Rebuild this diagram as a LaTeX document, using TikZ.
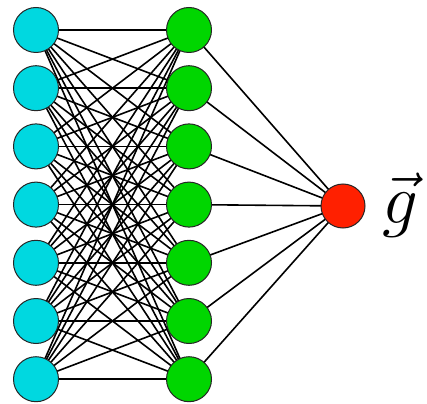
\documentclass[tikz,border=0pt]{standalone}
\usetikzlibrary{backgrounds}
\definecolor{inputcol}{RGB}{0,216,224}
\definecolor{hiddencol}{RGB}{0,214,0}
\definecolor{outputcol}{RGB}{255,32,0}
\tikzset{
  neuron/.style={circle, draw=black!85, line width=1pt, minimum size=45pt, inner sep=0pt},
  inneuron/.style={neuron, fill=inputcol},
  hidneuron/.style={neuron, fill=hiddencol},
  outneuron/.style={neuron, fill=outputcol, minimum size=44pt},
  link/.style={line width=1.6pt, black}
}
\begin{document}
\begin{tikzpicture}[x=1pt,y=1pt]
  \useasboundingbox (0,0) rectangle (427,-403);
  % input and hidden layers
  \foreach \i in {1,...,7} {
    \node[inneuron]  (in\i)  at (36, {-30-58.2*(\i-1)}) {};
    \node[hidneuron] (hid\i) at (189,{-30-58.2*(\i-1)}) {};
  }
  % output neuron and its label
  \node[outneuron] (out) at (343,-206) {};
  \node[font=\Huge, scale=2.85, inner sep=0pt, anchor=west] (g) at (382,-205) {$\vec{g}$};
  % fully connected links, kept behind the neurons
  \begin{scope}[on background layer]
    \foreach \i in {1,...,7} {
      \foreach \j in {1,...,7} {
        \draw[link] (in\i.center) -- (hid\j.center);
      }
      \draw[link] (hid\i.center) -- (out.center);
    }
  \end{scope}
\end{tikzpicture}
\end{document}
